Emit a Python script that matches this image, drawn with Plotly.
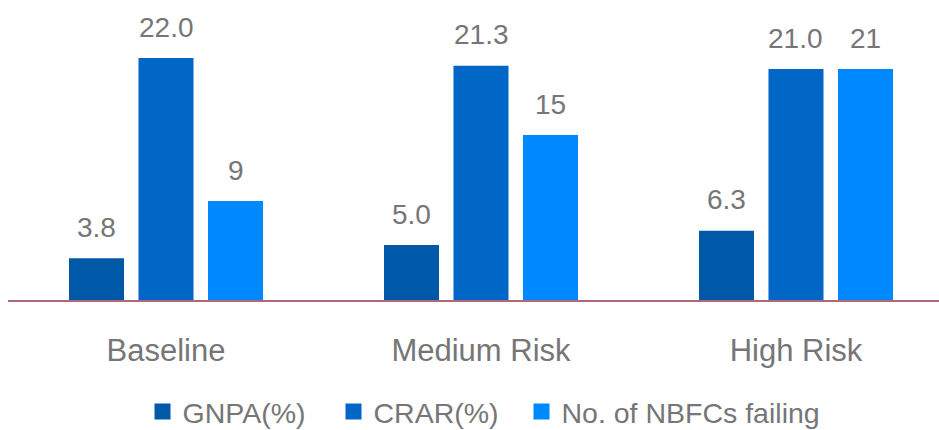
import plotly.graph_objects as go

categories = ["Baseline", "Medium Risk", "High Risk"]
series_names = ["GNPA(%)", "CRAR(%)", "No. of NBFCs failing"]
gnpa = [3.8, 5.0, 6.3]
crar = [22.0, 21.3, 21.0]
nbfc_failing = [9, 15, 21]
label_formats = ["{:.1f}", "{:.1f}", "{:.0f}"]
colors = ["#0059A8", "#0067C6", "#0088FF"]

FONT = "Liberation Sans, Arial, sans-serif"
TEXT_COLOR = "#767676"
W, H = 939, 430
PLOT_H = 300

fig = go.Figure()
all_values = [gnpa, crar, nbfc_failing]
legend_ids = ["legend", "legend2", "legend3"]
for name, vals, col, lg in zip(series_names, all_values, colors, legend_ids):
    fig.add_trace(go.Bar(x=categories, y=vals, name=name, marker=dict(color=col, line=dict(width=0)),
                         showlegend=False))
    fig.add_trace(go.Scatter(x=[None], y=[None], mode="markers", name=name, legend=lg,
                             marker=dict(symbol="square", size=18, color=col), showlegend=True))

annotations = []
shifts = [-69.5, 0, 69.5]
for j, (vals, fmt) in enumerate(zip(all_values, label_formats)):
    for i, v in enumerate(vals):
        annotations.append(dict(x=categories[i], y=v, xref="x", yref="y", text=fmt.format(v),
                                showarrow=False, xshift=shifts[j], yshift=31, yanchor="middle",
                                font=dict(family=FONT, size=28, color=TEXT_COLOR)))

legend_font = dict(family=FONT, size=28.5, color=TEXT_COLOR)
square_centers = [162.5, 353.5, 541.5]
legends = {}
for lg, cx in zip(legend_ids, square_centers):
    legends[lg] = dict(orientation="h", xref="container", yref="paper",
                       x=(cx - 20) / W, xanchor="left", y=(PLOT_H - 412) / PLOT_H, yanchor="middle",
                       font=legend_font, bgcolor="rgba(0,0,0,0)", borderwidth=0)

fig.update_layout(
    width=W, height=H,
    margin=dict(l=8, r=0, t=0, b=H - PLOT_H, autoexpand=False),
    paper_bgcolor="white", plot_bgcolor="white",
    barmode="group", bargap=0.338, bargroupgap=0.2085,
    font=dict(family=FONT, color=TEXT_COLOR),
    annotations=annotations,
    xaxis=dict(range=[-0.5016, 2.454], showline=True, linecolor="#B06878", linewidth=2,
               showgrid=False, zeroline=False, ticks="", ticklabelstandoff=22,
               tickfont=dict(family=FONT, size=31, color=TEXT_COLOR)),
    yaxis=dict(range=[0, PLOT_H / 11], visible=False, showgrid=False, zeroline=False),
    **legends,
)

fig.write_html("out.html")
